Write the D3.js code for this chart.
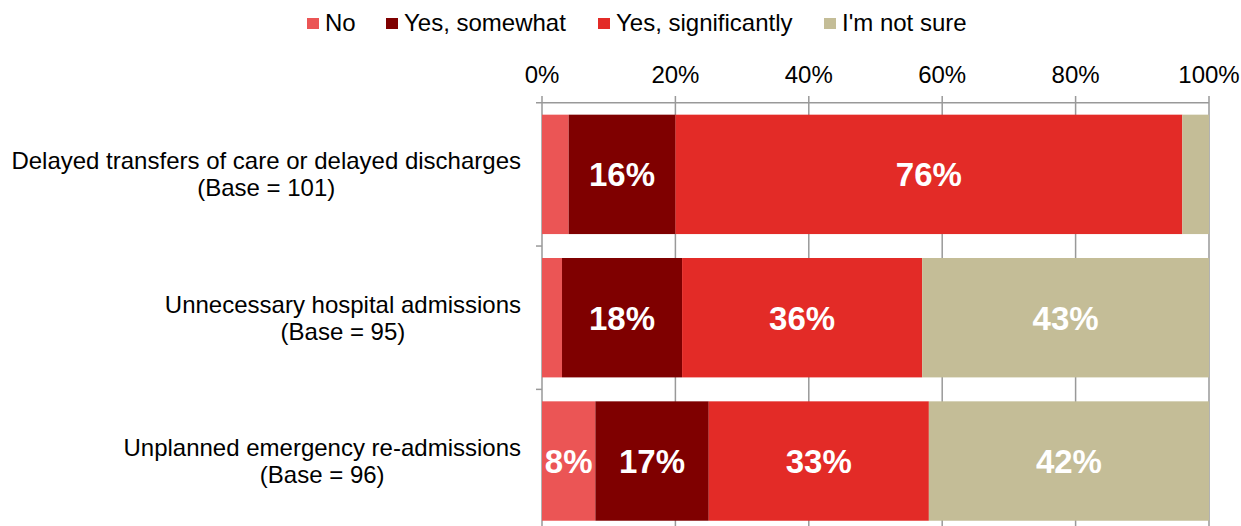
<!DOCTYPE html>
<html>
<head>
<meta charset="utf-8">
<script src="https://cdn.jsdelivr.net/npm/d3@7"></script>
<style>
  html, body { margin: 0; padding: 0; background: #fff; }
  svg { display: block; font-family: "Liberation Sans", Arial, sans-serif; }
</style>
</head>
<body>
<svg id="chart" width="1241" height="526"></svg>
<script>
// Survey responses by outcome area (shares of respondents)
const categories = [
  ["Delayed transfers of care or delayed discharges", "(Base = 101)"],
  ["Unnecessary hospital admissions", "(Base = 95)"],
  ["Unplanned emergency re-admissions", "(Base = 96)"]
];
const seriesNames = ["No", "Yes, somewhat", "Yes, significantly", "I'm not sure"];
const noValues = [4, 3, 8];
const somewhatValues = [16, 18, 17];
const significantlyValues = [76, 36, 33];
const notSureValues = [4, 43, 42];
const tickValues = [0, 20, 40, 60, 80, 100];
const colors = ["#EB5555", "#7F0000", "#E32B27", "#C4BD97"];

const seriesValues = [noValues, somewhatValues, significantlyValues, notSureValues];
const rows = categories.map((c, i) => {
  const r = { key: i };
  seriesNames.forEach((s, j) => { r[s] = seriesValues[j][i]; });
  return r;
});

const svg = d3.select("#chart");
const x = d3.scaleLinear().domain([0, 100]).range([542, 1209]);
const y = d3.scaleBand().domain(d3.range(categories.length))
  .range([102.7, 532.7]).paddingInner(0.167).paddingOuter(0.0835);

// Vertical gridlines with ticks above the top axis
const gridColor = "#999999";
svg.append("g").selectAll("line").data(tickValues).join("line")
  .attr("x1", d => x(d)).attr("x2", d => x(d))
  .attr("y1", 96).attr("y2", 526)
  .attr("stroke", gridColor).attr("stroke-width", 1.5);

// Top axis line
svg.append("line").attr("x1", 536).attr("x2", x(100))
  .attr("y1", 102.7).attr("y2", 102.7)
  .attr("stroke", gridColor).attr("stroke-width", 1.5);

// Category separator ticks on the left axis
svg.append("g").selectAll("line").data(d3.range(1, categories.length)).join("line")
  .attr("x1", 536).attr("x2", 542)
  .attr("y1", d => y(d) - y.step() * y.paddingInner() / 2)
  .attr("y2", d => y(d) - y.step() * y.paddingInner() / 2)
  .attr("stroke", gridColor).attr("stroke-width", 1.5);

// Tick labels
svg.append("g").selectAll("text").data(tickValues).join("text")
  .attr("x", d => x(d)).attr("y", 83)
  .attr("text-anchor", "middle")
  .attr("font-size", 24).attr("fill", "#000")
  .text(d => d + "%");

// Stacked bars
const stack = d3.stack().keys(seriesNames);
const layers = stack(rows);
const layerG = svg.append("g").selectAll("g").data(layers).join("g")
  .attr("fill", (d, i) => colors[i]);
layerG.selectAll("rect").data(d => d).join("rect")
  .attr("x", d => x(d[0]))
  .attr("width", d => x(d[1]) - x(d[0]))
  .attr("y", d => y(d.data.key))
  .attr("height", y.bandwidth());

// Value labels inside segments
const labelG = svg.append("g");
layers.forEach(layer => {
  layer.forEach(d => {
    const v = d[1] - d[0];
    if (v < 8) return;
    labelG.append("text")
      .attr("x", (x(d[0]) + x(d[1])) / 2)
      .attr("y", y(d.data.key) + y.bandwidth() / 2)
      .attr("dy", "0.36em")
      .attr("text-anchor", "middle")
      .attr("font-size", 33).attr("font-weight", "bold")
      .attr("fill", "#fff")
      .text(v + "%");
  });
});

// Category labels: lines centered within a right-aligned block
const catG = svg.append("g");
categories.forEach((lines, i) => {
  const cy = y(i) + y.bandwidth() / 2;
  const t = catG.append("text").attr("font-size", 24).attr("fill", "#000")
    .attr("text-anchor", "middle");
  const spans = lines.map((ln, k) => t.append("tspan")
    .attr("y", cy - 5 + k * 27).text(ln));
  const maxW = d3.max(spans, s => s.node().getComputedTextLength());
  spans.forEach(s => s.attr("x", 521 - maxW / 2));
});

// Legend
const legendX = [307, 386, 598, 824];
const lg = svg.append("g");
seriesNames.forEach((s, i) => {
  lg.append("rect").attr("x", legendX[i]).attr("y", 18).attr("width", 12).attr("height", 11)
    .attr("fill", colors[i]);
  lg.append("text").attr("x", legendX[i] + 18).attr("y", 31)
    .attr("font-size", 24).attr("fill", "#000").text(s);
});
</script>
</body>
</html>
